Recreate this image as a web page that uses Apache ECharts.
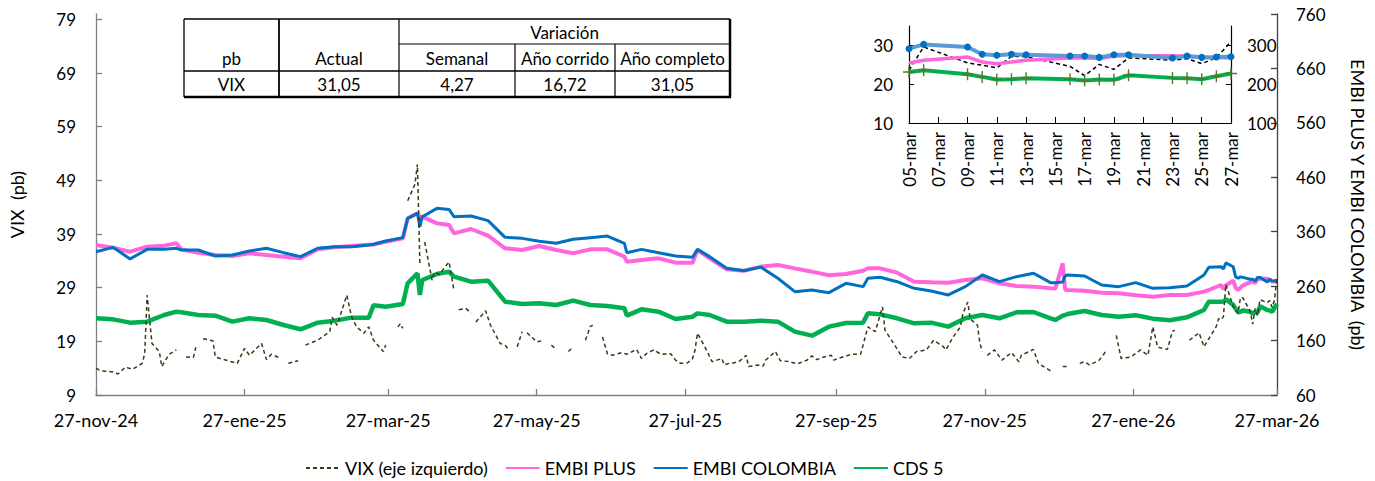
<!DOCTYPE html>
<html>
<head>
<meta charset="utf-8">
<script src="https://cdn.jsdelivr.net/npm/echarts@6/dist/echarts.min.js"></script>
<style>
html,body{margin:0;padding:0;background:#fff;}
#chart{width:1375px;height:481px;}
</style>
</head>
<body>
<div id="chart"></div>
<script>
// ---------------- DATA ----------------
const spreadDates = [
 '2024-11-27','2024-12-04','2024-12-11','2024-12-18','2024-12-25','2024-12-30',
 '2025-01-01','2025-01-08','2025-01-15','2025-01-22','2025-01-29',
 '2025-02-05','2025-02-12','2025-02-19','2025-02-26',
 '2025-03-05','2025-03-12','2025-03-19','2025-03-21','2025-03-26',
 '2025-04-02','2025-04-04','2025-04-08','2025-04-09','2025-04-10','2025-04-16','2025-04-21','2025-04-23','2025-04-30',
 '2025-05-07','2025-05-14','2025-05-21','2025-05-28',
 '2025-06-04','2025-06-11','2025-06-18','2025-06-25',
 '2025-07-02','2025-07-03','2025-07-09','2025-07-16','2025-07-23','2025-07-30',
 '2025-08-01','2025-08-06','2025-08-13','2025-08-20','2025-08-27',
 '2025-09-03','2025-09-10','2025-09-17','2025-09-24',
 '2025-10-01','2025-10-08','2025-10-10','2025-10-15','2025-10-22','2025-10-29',
 '2025-11-05','2025-11-12','2025-11-19','2025-11-26',
 '2025-12-03','2025-12-10','2025-12-17','2025-12-24','2025-12-26','2025-12-29','2025-12-30','2025-12-31',
 '2026-01-07','2026-01-14','2026-01-21','2026-01-28',
 '2026-02-04','2026-02-11','2026-02-18','2026-02-25','2026-02-27',
 '2026-03-04'];
const embiPlus = [
 335.6,330.7,323.3,332.5,334.4,338.7,
 327.6,321.5,317.2,315.4,320.3,
 317.2,314.2,311.1,327.6,
 331.3,333.8,336.2,336.5,341.7,
 347.8,384.6,393.8,387.6,387.6,375.4,372.3,357.0,365.0,
 353.0,329.5,326.4,333.8,
 326.4,320.3,327.6,327.6,
 314.2,305.0,308.0,311.1,303.1,303.1,
 326.4,311.1,290.9,288.4,295.8,
 298.9,292.7,286.6,279.9,
 282.3,288.4,293.0,292.7,284.8,268.2,
 267.0,266.4,271.3,274.4,
 265.2,260.3,259.1,256.0,255.8,301.9,253.5,252.9,
 251.7,248.0,246.8,243.1,
 240.7,243.8,243.8,249.9,252.9,
 262.1];
const embiColombia = [
 323.3,331.3,310.0,327.6,327.6,329.5,
 326.4,326.4,315.4,317.2,324.6,
 329.5,321.5,314.2,329.5,
 332.5,332.5,335.6,337.0,343.0,
 349.1,384.6,393.8,369.3,387.6,402.9,401.0,387.5,388.9,
 380.3,349.7,347.8,342.3,
 338.7,346.0,349.1,352.1,
 338.7,321.5,327.6,321.5,315.4,312.9,
 327.6,314.2,292.7,288.4,295.0,
 274.4,249.9,252.9,248.0,
 265.2,259.1,274.4,276.2,268.2,256.0,
 251.1,243.8,259.1,280.5,
 268.2,277.4,283.6,266.4,266.4,267.5,279.0,280.5,
 278.7,262.1,259.1,266.4,
 256.0,257.2,260.3,280.5,294.6,
 295.8];
const cds5 = [
 200.9,199.0,192.9,194.8,207.0,213.1,
 211.9,207.0,205.8,194.8,200.9,
 197.8,188.6,180.7,192.9,
 196.6,202.1,202.1,225.0,222.3,
 227.2,265.2,283.6,243.8,271.3,282.3,286.6,277.4,268.2,
 270.1,231.5,227.2,228.5,
 225.4,233.3,225.4,223.5,
 219.3,205.8,217.4,213.1,199.7,203.9,
 210.0,207.0,194.8,194.8,196.6,
 194.8,176.4,169.0,185.6,
 192.3,192.9,210.0,208.2,200.9,191.7,
 192.9,185.6,200.9,207.0,
 200.9,211.9,212.5,200.9,197.8,205.8,207.0,208.8,
 214.4,207.0,203.9,206.4,
 200.3,197.2,202.7,216.2,231.5,
 231.5];

const vixDates = ['2024-11-27','2024-11-29','2024-12-04','2024-12-06','2024-12-09','2024-12-12','2024-12-16','2024-12-17','2024-12-18','2024-12-20','2024-12-23','2024-12-24','2024-12-27','2024-12-30','2025-01-01','2025-01-03','2025-01-06','2025-01-07','2025-01-09','2025-01-10','2025-01-14','2025-01-15','2025-01-17','2025-01-24','2025-01-27','2025-01-29','2025-02-03','2025-02-05','2025-02-07','2025-02-11','2025-02-13','2025-02-14','2025-02-18','2025-02-20','2025-02-21','2025-02-26','2025-03-03','2025-03-04','2025-03-06','2025-03-10','2025-03-12','2025-03-14','2025-03-17','2025-03-19','2025-03-21','2025-03-25','2025-03-26','2025-03-28','2025-03-31','2025-04-01','2025-04-02','2025-04-03','2025-04-04','2025-04-07','2025-04-08','2025-04-09','2025-04-10','2025-04-11','2025-04-14','2025-04-15','2025-04-17','2025-04-21','2025-04-23','2025-04-24','2025-04-25','2025-04-28','2025-04-30','2025-05-01','2025-05-02','2025-05-06','2025-05-08','2025-05-12','2025-05-14','2025-05-15','2025-05-16','2025-05-19','2025-05-21','2025-05-22','2025-05-23','2025-05-27','2025-05-29','2025-05-30','2025-06-02','2025-06-04','2025-06-05','2025-06-09','2025-06-11','2025-06-12','2025-06-16','2025-06-18','2025-06-19','2025-06-20','2025-06-23','2025-06-25','2025-06-27','2025-07-01','2025-07-03','2025-07-07','2025-07-09','2025-07-11','2025-07-14','2025-07-17','2025-07-21','2025-07-23','2025-07-25','2025-07-28','2025-07-30','2025-07-31','2025-08-01','2025-08-04','2025-08-05','2025-08-07','2025-08-11','2025-08-12','2025-08-14','2025-08-15','2025-08-18','2025-08-21','2025-08-22','2025-08-26','2025-08-28','2025-08-29','2025-09-02','2025-09-04','2025-09-08','2025-09-11','2025-09-15','2025-09-17','2025-09-19','2025-09-22','2025-09-25','2025-09-26','2025-09-29','2025-10-02','2025-10-03','2025-10-07','2025-10-10','2025-10-13','2025-10-16','2025-10-17','2025-10-21','2025-10-24','2025-10-27','2025-10-30','2025-11-03','2025-11-06','2025-11-10','2025-11-11','2025-11-14','2025-11-17','2025-11-18','2025-11-20','2025-11-21','2025-11-24','2025-11-25','2025-11-26','2025-11-27','2025-11-28','2025-12-01','2025-12-04','2025-12-08','2025-12-11','2025-12-12','2025-12-17','2025-12-19','2025-12-24','2025-12-25','2025-12-29','2025-12-31','2026-01-01','2026-01-05','2026-01-07','2026-01-09','2026-01-13','2026-01-15','2026-01-16','2026-01-19','2026-01-20','2026-01-22','2026-01-26','2026-01-30','2026-02-02','2026-02-04','2026-02-06','2026-02-10','2026-02-12','2026-02-13','2026-02-16','2026-02-19','2026-02-23','2026-02-25','2026-03-02','2026-03-03','2026-03-04'];
const vixValues = [14.0,13.5,13.3,12.9,14.2,13.8,14.9,16.7,27.6,18.6,17.1,14.3,16.6,17.4,null,16.1,16.0,17.9,null,19.5,19.1,16.1,15.8,14.9,17.7,16.4,18.6,15.6,16.6,15.8,null,14.9,15.4,null,18.3,19.2,20.8,23.5,22.0,27.6,23.5,21.7,20.5,21.7,19.2,17.1,18.3,null,21.7,22.3,21.4,null,45.2,48.3,52.0,33.5,null,37.5,30.4,31.9,31.5,33.8,28.5,null,24.9,25.1,24.2,null,22.6,24.7,22.0,18.6,18.3,17.7,null,18.0,20.8,null,20.6,18.9,19.1,null,18.3,17.5,null,17.1,18.0,null,19.2,21.8,22.0,null,19.8,16.7,16.4,16.9,16.6,17.5,15.8,16.7,17.4,16.6,16.7,15.5,14.9,15.0,15.8,17.4,20.5,18.0,17.1,15.2,15.8,14.6,14.9,14.9,15.2,16.4,14.3,14.6,14.4,15.5,17.1,15.4,15.2,14.8,15.5,16.3,15.6,16.1,16.4,15.5,16.0,16.4,16.6,16.6,21.7,20.8,25.4,21.1,18.3,16.1,15.8,17.1,17.4,19.2,18.0,17.4,19.8,21.7,24.2,26.3,23.2,22.0,18.6,17.1,null,16.4,17.4,15.5,16.9,15.2,16.4,17.5,14.9,13.5,null,14.3,14.3,null,14.9,15.2,14.6,15.5,16.7,17.4,null,20.1,15.8,16.1,17.4,16.4,21.7,17.9,17.5,20.8,21.1,null,19.2,20.6,18.0,21.7,23.2,23.0];

// March 2026 detail (also shown in the inset)
const marchDates = ['2026-03-05','2026-03-06','2026-03-09','2026-03-10','2026-03-11','2026-03-12','2026-03-13','2026-03-16','2026-03-17','2026-03-18','2026-03-19','2026-03-20','2026-03-23','2026-03-24','2026-03-25','2026-03-26','2026-03-27'];
const marchVix = [23.6,29.6,25.5,24.9,24.2,27.2,27.1,24.6,22.2,25.1,23.8,26.78,26.2,26.6,25.3,26.8,31.05];
const marchEmbiPlus = [254.7,261.5,270.0,257.2,253.0,257.2,261.5,267.5,268.4,265.8,272.6,273.5,273.5,271.8,268.4,268.4,268.4];
const marchEmbiColombia = [291.5,302.6,295.7,277.0,274.4,277.0,276.1,272.6,272.6,269.2,276.1,276.1,267.5,272.6,269.2,270.0,270.9];
const marchCds5 = [231.6,235.9,225.6,218.8,212.1,212.9,215.4,212.9,209.5,212.1,211.2,223.1,216.3,215.4,212.9,220.5,227.4];

const mainTickDates = ['2024-11-27','2025-01-27','2025-03-27','2025-05-27','2025-07-27','2025-09-27','2025-11-27','2026-01-27','2026-03-27'];
const insetTickDates = ['2026-03-05','2026-03-07','2026-03-09','2026-03-11','2026-03-13','2026-03-15','2026-03-17','2026-03-19','2026-03-21','2026-03-23','2026-03-25','2026-03-27'];
const vixTicks = [9,19,29,39,49,59,69,79];
const spreadTicks = [60,160,260,360,460,560,660,760];
const insetVixTicks = [10,20,30];
const insetSpreadTicks = [100,200,300];

const seriesNames = ['VIX (eje izquierdo)','EMBI PLUS','EMBI COLOMBIA','CDS 5'];
const tableHeader = ['pb','Actual','Variación','Semanal','Año corrido','Año completo'];
const tableRow = ['VIX','31,05','4,27','16,72','31,05'];

// ---------------- HELPERS ----------------
const MESES = ['ene','feb','mar','abr','may','jun','jul','ago','sep','oct','nov','dic'];
function ts(s){ const p = s.split('-').map(Number); return new Date(p[0], p[1]-1, p[2]).getTime(); }
function pad(n){ return (n<10?'0':'')+n; }
function fmtMain(v){ const d=new Date(v); return d.getDate()+'-'+MESES[d.getMonth()]+'-'+String(d.getFullYear()).slice(2); }
function fmtInset(v){ const d=new Date(v); return pad(d.getDate())+'-'+MESES[d.getMonth()]; }
function pairs(dates, vals){ return dates.map((d,i)=>[ts(d), vals[i]]); }

const allSpreadDates = spreadDates.concat(marchDates);
const FONT = 'Lato';
const AX_MAIN = '#7f7f7f';

// ---------------- TABLE (graphic) ----------------
const colX = [184, 279, 399, 515, 615, 730];
const rowY = [19, 44, 71, 97];
function hline(x1,x2,y,w){ return {type:'line', silent:true, shape:{x1:x1,y1:y,x2:x2,y2:y}, style:{stroke:'#000', lineWidth:w}}; }
function vline(x,y1,y2,w){ return {type:'line', silent:true, shape:{x1:x,y1:y1,x2:x,y2:y2}, style:{stroke:'#000', lineWidth:w}}; }
function txt(t,x,y){ return {type:'text', silent:true, style:{text:t, x:x, y:y, font:'17px '+FONT, fill:'#000', align:'center', verticalAlign:'middle', textAlign:'center', textVerticalAlign:'middle'}}; }
const mid = i => (colX[i]+colX[i+1])/2;
const tableEls = [
  {type:'rect', silent:true, shape:{x:colX[0], y:rowY[0], width:colX[5]-colX[0], height:rowY[3]-rowY[0]}, style:{fill:'#fff'}},
  hline(colX[0], colX[5], rowY[0], 1.3),
  hline(colX[2], colX[5], rowY[1], 1.2),
  hline(colX[0], colX[5], rowY[2], 1.5),
  hline(colX[0], colX[5]+1, rowY[3], 2.5),
  vline(colX[0], rowY[0], rowY[3], 1.3),
  vline(colX[1], rowY[0], rowY[3], 1.8),
  vline(colX[2], rowY[0], rowY[3], 1.2),
  vline(colX[3], rowY[1], rowY[3], 1.2),
  vline(colX[4], rowY[1], rowY[3], 1.2),
  vline(colX[5], rowY[0], rowY[3], 2.5),
  txt(tableHeader[0], mid(0), 58),
  txt(tableHeader[1], mid(1), 58),
  txt(tableHeader[2], (colX[2]+colX[5])/2, 32),
  txt(tableHeader[3], mid(2), 58),
  txt(tableHeader[4], mid(3), 58),
  txt(tableHeader[5], mid(4), 58),
  txt(tableRow[0], mid(0), 84),
  txt(tableRow[1], mid(1), 84),
  txt(tableRow[2], mid(2), 84),
  txt(tableRow[3], mid(3), 84),
  txt(tableRow[4], mid(4), 84)
];

// ---------------- CHART ----------------
const chart = echarts.init(document.getElementById('chart'), null, {renderer:'svg'});
const labelStyle = {color:'#000', fontSize:17, fontFamily:FONT};

const option = {
  animation:false,
  backgroundColor:'#fff',
  textStyle:{fontFamily:FONT},
  grid:[
    {left:93, right:92, top:14, bottom:86},
    {left:909, top:26, width:322, height:97}
  ],
  legend:{
    data:seriesNames, left:300, top:454, itemWidth:34, itemHeight:12, itemGap:17,
    itemStyle:{color:'transparent', borderColor:'transparent', borderWidth:0, opacity:0},
    textStyle:{color:'#000', fontSize:18, fontFamily:FONT}
  },
  xAxis:[
    {type:'value', gridIndex:0, min:ts('2024-11-27'), max:ts('2026-03-27'),
     axisLine:{show:true, lineStyle:{color:AX_MAIN, width:1.3}},
     axisTick:{show:true, inside:true, length:6, customValues:mainTickDates.map(ts), lineStyle:{color:AX_MAIN, width:1.3}},
     axisLabel:{customValues:mainTickDates.map(ts), formatter:fmtMain, margin:16, hideOverlap:false, showMinLabel:true, showMaxLabel:true, color:'#000', fontSize:18, fontFamily:FONT},
     splitLine:{show:false}},
    {type:'value', gridIndex:1, min:ts('2026-03-05'), max:ts('2026-03-27'),
     axisLine:{show:true, lineStyle:{color:'#000', width:1.2}},
     axisTick:{show:true, inside:true, length:6, customValues:insetTickDates.map(ts), lineStyle:{color:'#000'}},
     axisLabel:Object.assign({customValues:insetTickDates.map(ts), formatter:fmtInset, rotate:90, margin:9, hideOverlap:false, showMinLabel:true, showMaxLabel:true}, labelStyle),
     splitLine:{show:false}}
  ],
  yAxis:[
    {type:'value', gridIndex:0, position:'left', min:9, max:80,
     name:'VIX  (pb)', nameLocation:'middle', nameGap:70, nameTextStyle:{color:'#000', fontSize:18, fontFamily:FONT},
     axisLine:{show:true, lineStyle:{color:AX_MAIN, width:1.3}},
     axisTick:{show:true, inside:true, length:6, customValues:vixTicks, lineStyle:{color:AX_MAIN, width:1.3}},
     axisLabel:Object.assign({customValues:vixTicks, margin:20, showMinLabel:true, showMaxLabel:true}, labelStyle),
     splitLine:{show:false}},
    {type:'value', gridIndex:0, position:'right', min:60, max:760,
     name:'EMBI PLUS Y EMBI COLOMBIA  (pb)', nameLocation:'middle', nameRotate:-90, nameGap:72, nameTextStyle:{color:'#000', fontSize:18, fontFamily:FONT},
     axisLine:{show:true, lineStyle:{color:'#404040', width:1.3}},
     axisTick:{show:true, inside:true, length:6, customValues:spreadTicks, lineStyle:{color:'#404040', width:1.3}},
     axisLabel:Object.assign({customValues:spreadTicks, margin:19, showMinLabel:true, showMaxLabel:true}, labelStyle),
     splitLine:{show:false}},
    {type:'value', gridIndex:1, position:'left', min:10, max:35,
     axisLine:{show:true, lineStyle:{color:'#000', width:1.2}},
     axisTick:{show:true, inside:true, length:5, customValues:insetVixTicks, lineStyle:{color:'#000'}},
     axisLabel:Object.assign({customValues:insetVixTicks, margin:16, showMinLabel:true, showMaxLabel:true}, labelStyle),
     splitLine:{show:false}},
    {type:'value', gridIndex:1, position:'right', min:100, max:350,
     axisLine:{show:true, lineStyle:{color:'#000', width:1.2}},
     axisTick:{show:true, inside:true, length:5, customValues:insetSpreadTicks, lineStyle:{color:'#000'}},
     axisLabel:Object.assign({customValues:insetSpreadTicks, margin:16, showMinLabel:true, showMaxLabel:true}, labelStyle),
     splitLine:{show:false}}
  ],
  series:[
    {name:seriesNames[1], type:'line', xAxisIndex:0, yAxisIndex:1, symbol:'none', showSymbol:false,
     itemStyle:{color:'#ff66dd'}, lineStyle:{color:'#ff66dd', width:4},
     data:pairs(allSpreadDates, embiPlus.concat(marchEmbiPlus))},
    {name:seriesNames[2], type:'line', xAxisIndex:0, yAxisIndex:1, symbol:'none', showSymbol:false,
     itemStyle:{color:'#0070c0'}, lineStyle:{color:'#0070c0', width:3},
     data:pairs(allSpreadDates, embiColombia.concat(marchEmbiColombia))},
    {name:seriesNames[3], type:'line', xAxisIndex:0, yAxisIndex:1, symbol:'none', showSymbol:false,
     itemStyle:{color:'#00b050'}, lineStyle:{color:'#00b050', width:4.5},
     data:pairs(allSpreadDates, cds5.concat(marchCds5))},
    {name:seriesNames[0], type:'line', xAxisIndex:0, yAxisIndex:0, symbol:'none', showSymbol:false,
     itemStyle:{color:'#3a3a14'}, lineStyle:{color:'#3a3a14', width:1.5, type:[4,3]},
     data:pairs(vixDates.concat(marchDates), vixValues.concat(marchVix))},
    // inset
    {name:'VIX marzo', type:'line', xAxisIndex:1, yAxisIndex:2, symbol:'none', showSymbol:false,
     lineStyle:{color:'#000', width:1.5, type:[4,3]}, itemStyle:{color:'#000'},
     data:pairs(marchDates, marchVix)},
    {name:'EMBI PLUS marzo', type:'line', xAxisIndex:1, yAxisIndex:3, symbol:'none', showSymbol:false,
     lineStyle:{color:'#ff66dd', width:3.5}, itemStyle:{color:'#ff66dd'},
     data:pairs(marchDates, marchEmbiPlus)},
    {name:'EMBI COLOMBIA marzo', type:'line', xAxisIndex:1, yAxisIndex:3, symbol:'circle', symbolSize:7, showSymbol:true,
     lineStyle:{color:'#5b9bd5', width:4}, itemStyle:{color:'#0070c0', borderWidth:0},
     data:pairs(marchDates, marchEmbiColombia)},
    {name:'CDS 5 marzo', type:'line', xAxisIndex:1, yAxisIndex:3,
     symbol:'path://M5.3,0h1.4v5.3h5.3v1.4h-5.3v5.3h-1.4v-5.3h-5.3v-1.4h5.3z', symbolSize:12, showSymbol:true,
     lineStyle:{color:'#00b050', width:4}, itemStyle:{color:'#4f7a28', borderWidth:0},
     data:pairs(marchDates, marchCds5)}
  ],
  graphic:{elements:tableEls}
};
chart.setOption(option);
</script>
</body>
</html>
